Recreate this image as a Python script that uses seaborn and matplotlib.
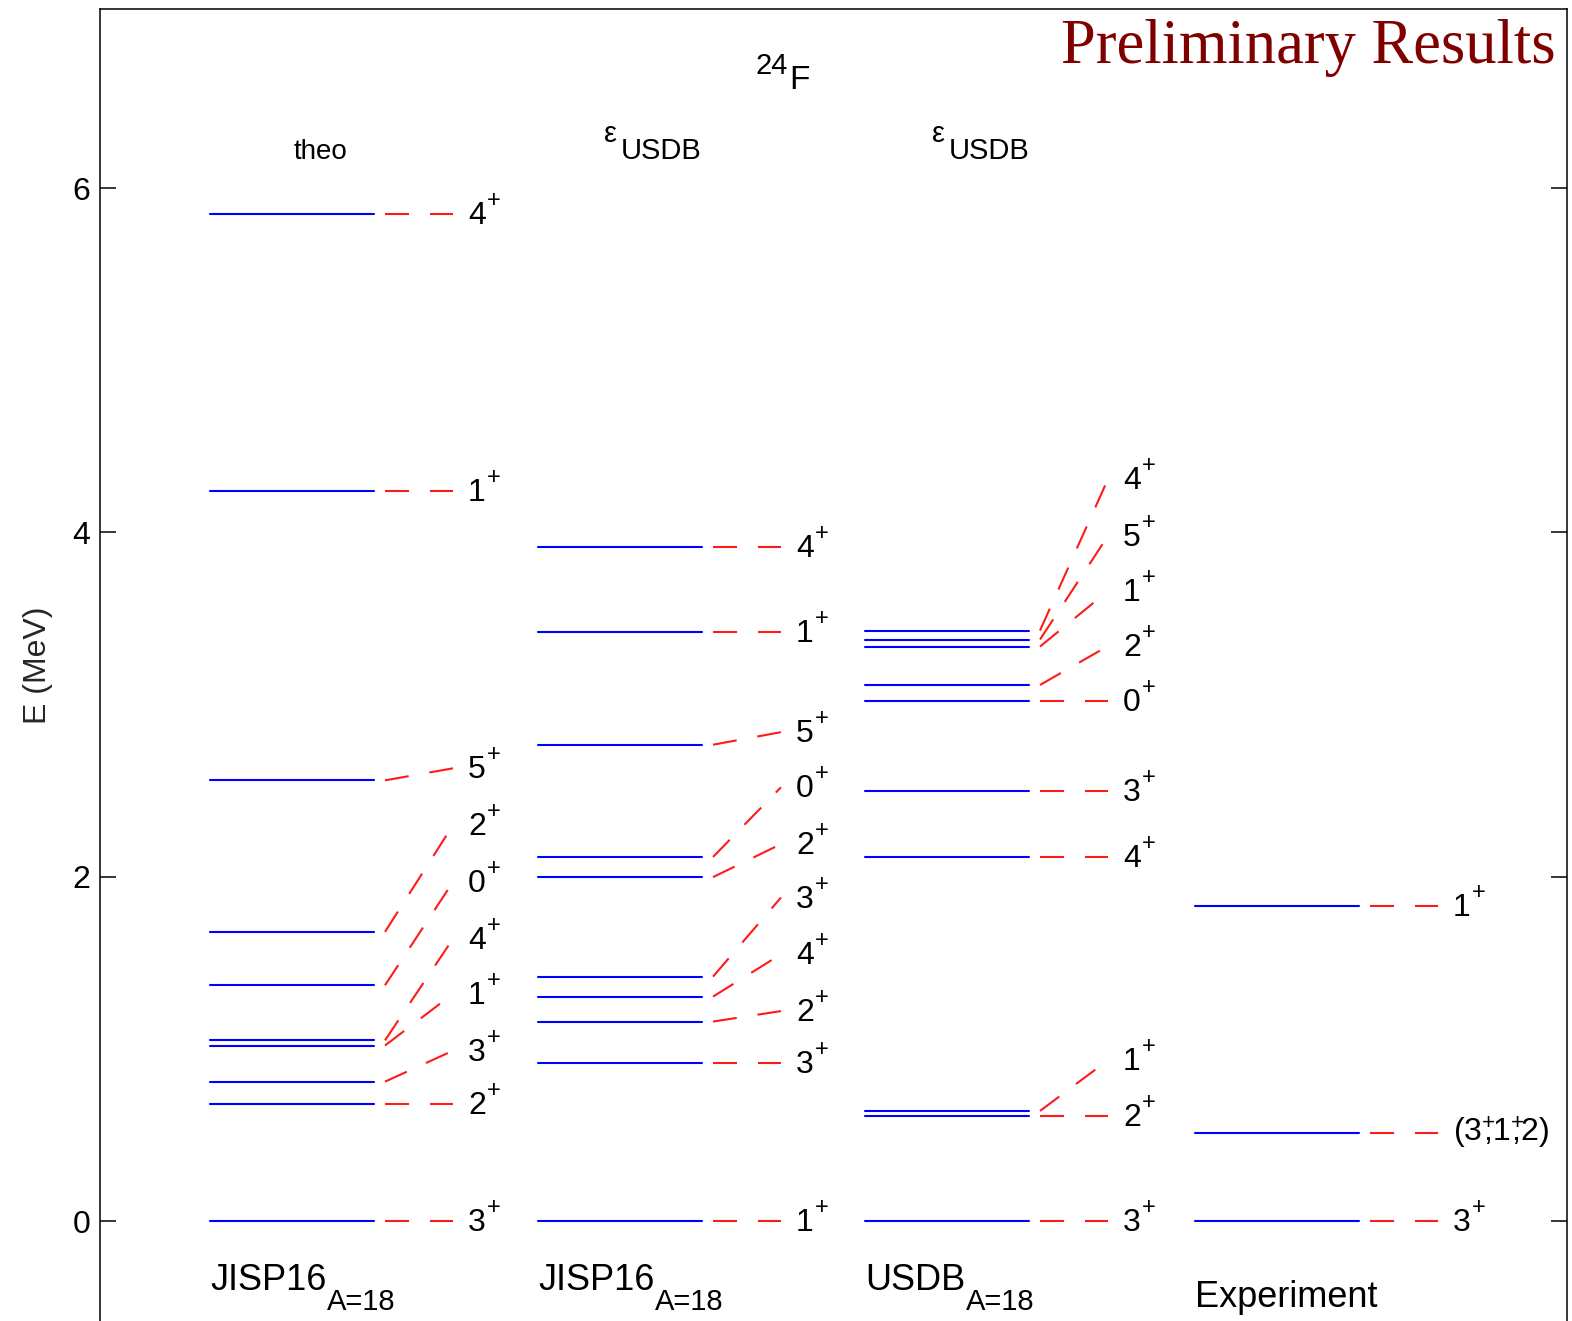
import numpy as np
import pandas as pd
import matplotlib
matplotlib.use("Agg")
import matplotlib.pyplot as plt
import seaborn as sns

# ---------------------------------------------------------------
# 24F excitation spectra (MeV) and spin-parity assignments
# ---------------------------------------------------------------
col_names = ["JISP16", "JISP16", "USDB", "Experiment"]
col_subscripts = ["A=18", "A=18", "A=18", ""]

theo_E = [0.0, 0.68, 0.81, 1.02, 1.05, 1.37, 1.68, 2.56, 4.24, 5.85]
theo_J = ["3+", "2+", "3+", "1+", "4+", "0+", "2+", "5+", "1+", "4+"]
theo_label_E = [0.0, 0.68, 0.99, 1.32, 1.64, 1.97, 2.30, 2.63, 4.24, 5.85]

jisp_eps_E = [0.0, 0.919, 1.159, 1.304, 1.420, 1.998, 2.115, 2.767, 3.424, 3.913]
jisp_eps_J = ["1+", "3+", "2+", "4+", "3+", "2+", "0+", "5+", "1+", "4+"]
jisp_eps_label_E = [0.0, 0.919, 1.22, 1.55, 1.88, 2.19, 2.52, 2.84, 3.424, 3.913]

usdb_eps_E = [0.0, 0.609, 0.640, 2.116, 2.500, 3.019, 3.114, 3.337, 3.378, 3.430]
usdb_eps_J = ["3+", "2+", "1+", "4+", "3+", "0+", "2+", "1+", "5+", "4+"]
usdb_eps_label_E = [0.0, 0.609, 0.935, 2.116, 2.500, 3.019, 3.34, 3.66, 3.98, 4.31]

exp_E = [0.0, 0.512, 1.831]
exp_J = ["3+", "(3+,1+,2)", "1+"]
exp_label_E = [0.0, 0.512, 1.831]

columns = [
    (theo_E, theo_J, theo_label_E),
    (jisp_eps_E, jisp_eps_J, jisp_eps_label_E),
    (usdb_eps_E, usdb_eps_J, usdb_eps_label_E),
    (exp_E, exp_J, exp_label_E),
]

# ---------------------------------------------------------------
# layout (x in units of 100 px from the left spine)
# ---------------------------------------------------------------
col_x0 = [1.10, 4.38, 7.65, 10.95]
line_len = 1.64
conn_start, conn_end, label_off = 1.75, 2.43, 2.58

sns.set_theme(style="white")
plt.rcParams.update({
    "font.family": ["Liberation Sans", "DejaVu Sans"],
    "mathtext.fontset": "custom",
    "mathtext.rm": "Liberation Sans",
    "mathtext.it": "Liberation Sans:italic",
    "mathtext.bf": "Liberation Sans:bold",
    "mathtext.default": "regular",
    "lines.scale_dashes": False,
    "text.color": "black",
})

W, H = 1572, 1321
fig = plt.figure(figsize=(W / 100, H / 100), dpi=100)
ax = fig.add_axes([100 / W, 0.0, (1567 - 100) / W, 1 - 9 / H])
ax.set_xlim(0, 14.67)
ax.set_ylim(-0.58, 7.04)

# blue level lines, one unit per level
rows = []
uid = 0
for x0, (E, J, LE) in zip(col_x0, columns):
    for e in E:
        rows.append({"uid": uid, "x": x0, "E": e})
        rows.append({"uid": uid, "x": x0 + line_len, "E": e})
        uid += 1
levels = pd.DataFrame(rows)
sns.lineplot(data=levels, x="x", y="E", units="uid", estimator=None, sort=False,
             color="#0000ff", lw=1.5, legend=False, ax=ax)


def spin_label(x, y, s):
    """Spin-parity label: value with a raised parity sign."""
    if s.startswith("("):
        ax.text(x, y, s.replace("+", r"$^{+\!\!\!\!}$"), fontsize=23,
                ha="left", va="center")
        return
    base = ax.text(x, y - 0.012, s[:-1], fontsize=23, ha="left", va="center")
    ax.annotate(s[-1], xy=(1, 1), xycoords=base, xytext=(0.5, 0),
                textcoords="offset points", fontsize=17, ha="left", va="center")


# red dashed connectors and spin labels
for x0, (E, J, LE) in zip(col_x0, columns):
    for e, j, le in zip(E, J, LE):
        ax.plot([x0 + conn_start, x0 + conn_end], [e, le], color="#ff1a1a", lw=1.5,
                dashes=(17.3, 15.1), solid_capstyle="butt", dash_capstyle="butt")
        spin_label(x0 + label_off, le, j)


# px -> data helpers for annotations
def px_x(px):
    return (px - 100) / 100.0


def px_y(py):
    return (1221 - py) / 172.2


# column titles
ax.text(px_x(320), px_y(152), "theo", fontsize=20, ha="center", va="center")
for eps_left in (604, 932):
    ax.text(px_x(eps_left), px_y(134), "ε", fontsize=21, ha="left", va="center")
    ax.text(px_x(eps_left + 17), px_y(151), "USDB", fontsize=21, ha="left", va="center")
ax.text(px_x(788), px_y(66), "24", fontsize=21, ha="right", va="center")
ax.text(px_x(789), px_y(80), "F", fontsize=24, ha="left", va="center")

# bottom labels with subscripts
for x0, name, sub in zip(col_x0, col_names, col_subscripts):
    if sub:
        base = ax.text(x0, px_y(1290), name, fontsize=26, ha="left", va="baseline")
        ax.annotate(sub, xy=(1, px_y(1310)), xycoords=(base, "data"),
                    xytext=(0.5, 0), textcoords="offset points",
                    fontsize=21, ha="left", va="baseline")
    else:
        ax.text(x0, px_y(1307), name, fontsize=26, ha="left", va="baseline")

# axes styling
ax.set_xticks([])
ax.set_yticks([0, 2, 4, 6])
ax.tick_params(axis="y", which="both", direction="in", length=11.5, width=1.1,
               left=True, right=True, labelsize=23, pad=7, colors="black")
ax.set_ylabel("E (MeV)", fontsize=23, labelpad=14)
for side in ("left", "top", "right"):
    ax.spines[side].set_visible(True)
    ax.spines[side].set_color("black")
    ax.spines[side].set_linewidth(1.1)
ax.spines["bottom"].set_visible(False)
ax.set_xlabel("")

# preliminary stamp
fig.text(1556 / W, 1 - 63 / H, "Preliminary Results", fontsize=45,
         family="Liberation Serif", color="#800000", ha="right", va="baseline", zorder=6)

fig.savefig("out.png", dpi=100)
